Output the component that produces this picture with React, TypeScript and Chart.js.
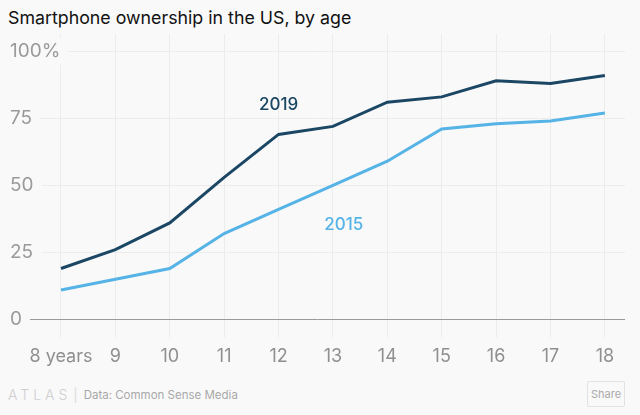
import React, { useEffect, useRef } from "react";
import { Chart, registerables } from "chart.js";

Chart.register(...registerables);

const ages = [8, 9, 10, 11, 12, 13, 14, 15, 16, 17, 18];
const share2019 = [19, 26, 36, 53, 69, 72, 81, 83, 89, 88, 91];
const share2015 = [11, 15, 19, 32, 41, 50, 59, 71, 73, 74, 77];
const yTicks = [0, 25, 50, 75, 100];
const seriesNames = ["2019", "2015"];
const labelAnchors = [
  { x: 12, y: 80 },
  { x: 13.2, y: 35.3 },
];

const DARK = "#1b4764";
const LIGHT = "#55b3e6";
const BG = "#f9f9f9";
const FONT = "Inter, 'Noto Sans', sans-serif";

const seriesLabelPlugin = {
  id: "seriesLabels",
  afterDatasetsDraw(chart: any) {
    const { ctx, scales } = chart;
    const colors = [DARK, LIGHT];
    ctx.save();
    ctx.font = `500 17px ${FONT}`;
    ctx.textAlign = "center";
    ctx.textBaseline = "middle";
    seriesNames.forEach((name, i) => {
      const a = labelAnchors[i];
      ctx.fillStyle = colors[i];
      ctx.fillText(name, scales.x.getPixelForValue(a.x), scales.y.getPixelForValue(a.y));
    });
    ctx.restore();
  },
};

export default function App() {
  const ref = useRef<HTMLCanvasElement | null>(null);

  useEffect(() => {
    document.body.style.margin = "0";
    document.body.style.background = BG;
    const canvas = ref.current;
    if (!canvas) return;
    const chart = new Chart(canvas, {
      type: "line",
      data: {
        datasets: [
          {
            label: seriesNames[0],
            data: ages.map((a, i) => ({ x: a, y: share2019[i] })),
            borderColor: DARK,
            borderWidth: 3,
            pointRadius: 0,
            tension: 0,
          },
          {
            label: seriesNames[1],
            data: ages.map((a, i) => ({ x: a, y: share2015[i] })),
            borderColor: LIGHT,
            borderWidth: 3,
            pointRadius: 0,
            tension: 0,
          },
        ],
      },
      options: {
        animation: false,
        responsive: false,
        maintainAspectRatio: false,
        layout: { padding: { left: 10, right: 15, top: 0, bottom: 0 } },
        plugins: {
          legend: { display: false },
          tooltip: { enabled: false },
        },
        scales: {
          x: {
            type: "linear",
            min: 7.0625,
            max: 18.37,
            afterBuildTicks: (scale: any) => {
              scale.ticks = ages.map((v) => ({ value: v }));
            },
            border: { display: false },
            grid: {
              color: "#ececec",
              lineWidth: 1,
              drawTicks: true,
              tickLength: 18,
            },
            ticks: {
              padding: 8,
              color: "#8f8f8f",
              font: { family: FONT, size: 18 },
              callback: (v: any) => (v === ages[0] ? `${v} years` : `${v}`),
              maxRotation: 0,
              autoSkip: false,
            },
          },
          y: {
            type: "linear",
            min: 0,
            max: 106.3,
            afterBuildTicks: (scale: any) => {
              scale.ticks = yTicks.map((v) => ({ value: v }));
            },
            border: { display: false },
            grid: {
              drawTicks: false,
              color: (c: any) => (c.tick && c.tick.value === 0 ? "#9a9a9a" : "#ececec"),
              lineWidth: 1,
            },
            ticks: {
              mirror: true,
              padding: 0,
              z: 1,
              color: "#9a9a9a",
              font: { family: FONT, size: 19 },
              showLabelBackdrop: true,
              backdropColor: BG,
              backdropPadding: { left: 0, right: 8, top: 2, bottom: 2 },
              callback: (v: any) => (v === 100 ? "100%" : `${v}`),
            },
          },
        },
      },
      plugins: [seriesLabelPlugin],
    } as any);
    return () => chart.destroy();
  }, []);

  return (
    <div
      style={{
        position: "relative",
        width: 640,
        height: 415,
        background: BG,
        fontFamily: FONT,
        overflow: "hidden",
      }}
    >
      <div
        style={{
          position: "absolute",
          left: 8,
          top: 7,
          fontSize: 17.8,
          color: "#111",
          whiteSpace: "nowrap",
        }}
      >
        Smartphone ownership in the US, by age
      </div>
      <canvas
        ref={ref}
        width={640}
        height={352}
        style={{ position: "absolute", left: 0, top: 23, width: 640, height: 352 }}
      />
      <div
        style={{
          position: "absolute",
          left: 8,
          top: 386,
          display: "flex",
          alignItems: "center",
          whiteSpace: "nowrap",
        }}
      >
        <span style={{ fontSize: 14, letterSpacing: 4, color: "#cfcfcf", fontWeight: 300 }}>ATLAS</span>
        <span style={{ fontSize: 13, color: "#dadada", margin: "0 6px 0 2px" }}>|</span>
        <span style={{ fontSize: 11.5, color: "#a8a8a8" }}>Data: Common Sense Media</span>
      </div>
      <div
        style={{
          position: "absolute",
          left: 587,
          top: 381,
          width: 38,
          height: 26,
          border: "1px solid #e2e2e2",
          borderRadius: 2,
          boxSizing: "border-box",
          fontSize: 11,
          color: "#aaa",
          display: "flex",
          alignItems: "center",
          justifyContent: "center",
        }}
      >
        Share
      </div>
    </div>
  );
}
